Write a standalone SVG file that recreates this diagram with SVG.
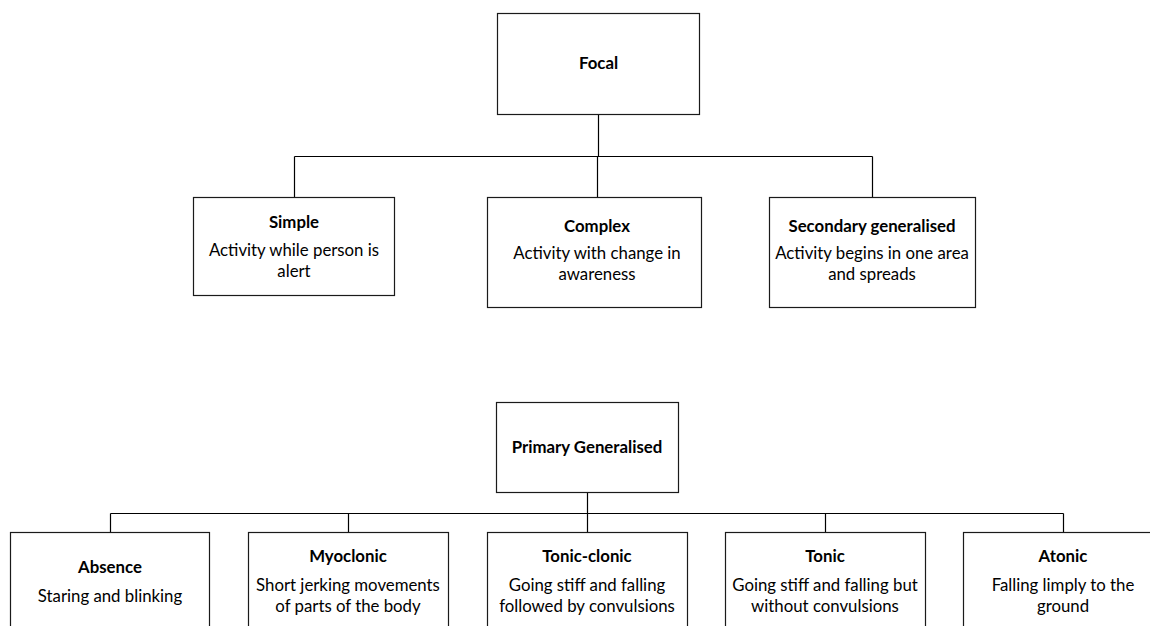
<svg xmlns="http://www.w3.org/2000/svg" width="1150" height="626" viewBox="0 0 1150 626">
<style>
.box{fill:#fff;stroke:#1a1a1a;stroke-width:1.2}
.con{fill:none;stroke:#000;stroke-width:1.2}
text{font-family:Lato,"Liberation Sans",sans-serif;font-size:16.8px;fill:#000;text-anchor:middle}
.t{font-weight:bold}
</style>
<rect width="1150" height="626" fill="#fff"/>
<g id="connectors">
<path class="con" d="M598.5 114V156.5M294.5 156.5H872.5M294.5 156.5V197M597.5 156.5V197M872.5 156.5V197"/>
<path class="con" d="M587.5 492V513.5M110.5 513.5H1063.5M110.5 513.5V532M348.5 513.5V532M587.5 513.5V532M825.5 513.5V532M1063.5 513.5V532"/>
</g>
<g id="focal"><rect class="box" x="497.5" y="13.5" width="202" height="101"/><text class="t" x="598.5" y="69">Focal</text></g>
<g id="simple"><rect class="box" x="193.5" y="197.5" width="201" height="98"/><text class="t" x="294" y="228">Simple</text><text x="294" y="255.5">Activity while person is</text><text x="294" y="276.5">alert</text></g>
<g id="complex"><rect class="box" x="487.5" y="197.5" width="214" height="110"/><text class="t" x="597" y="232">Complex</text><text x="597" y="259">Activity with change in</text><text x="597" y="280">awareness</text></g>
<g id="secondary"><rect class="box" x="769.5" y="197.5" width="206" height="110"/><text class="t" x="872" y="232">Secondary generalised</text><text x="872" y="259">Activity begins in one area</text><text x="872" y="280">and spreads</text></g>
<g id="primary"><rect class="box" x="496.5" y="402.5" width="182" height="90"/><text class="t" x="587" y="453">Primary Generalised</text></g>
<g id="absence"><rect class="box" x="10.5" y="532.5" width="199" height="110"/><text class="t" x="110" y="572.5">Absence</text><text x="110" y="601.5">Staring and blinking</text></g>
<g id="myoclonic"><rect class="box" x="248.5" y="532.5" width="200" height="110"/><text class="t" x="348" y="561.5">Myoclonic</text><text x="348" y="590.5">Short jerking movements</text><text x="348" y="611.5">of parts of the body</text></g>
<g id="tonic-clonic"><rect class="box" x="487.5" y="532.5" width="200" height="110"/><text class="t" x="587" y="561.5">Tonic-clonic</text><text x="587" y="590.5">Going stiff and falling</text><text x="587" y="611.5">followed by convulsions</text></g>
<g id="tonic"><rect class="box" x="725.5" y="532.5" width="200" height="110"/><text class="t" x="825" y="561.5">Tonic</text><text x="825" y="590.5">Going stiff and falling but</text><text x="825" y="611.5">without convulsions</text></g>
<g id="atonic"><rect class="box" x="963.5" y="532.5" width="200" height="110"/><text class="t" x="1063" y="561.5">Atonic</text><text x="1063" y="590.5">Falling limply to the</text><text x="1063" y="611.5">ground</text></g>
</svg>
